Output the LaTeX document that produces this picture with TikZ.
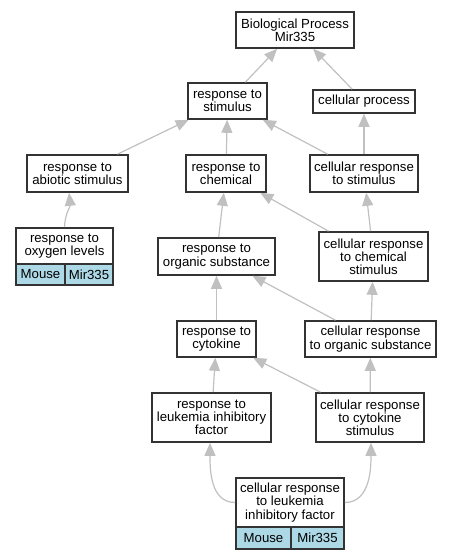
\documentclass[tikz,border=0pt]{standalone}
\usepackage{fontspec}
\setmainfont{Liberation Sans}
\usetikzlibrary{arrows.meta,calc}
\definecolor{edgegray}{HTML}{C0C0C0}
\definecolor{boxline}{HTML}{333333}
\definecolor{cellblue}{HTML}{ADD8E6}
\tikzset{
  term/.style={draw=boxline, line width=1.6pt, fill=white, rectangle, inner sep=0pt,
    align=center, font=\fontsize{13.2}{13.2}\selectfont},
  cell/.style={draw=boxline, line width=1.6pt, fill=cellblue, rectangle, inner sep=0pt,
    align=center, font=\fontsize{13.2}{13.2}\selectfont},
  edge/.style={draw=edgegray, line width=1.2pt, -{Triangle[length=13pt,width=11pt,fill=edgegray]}},
}
\begin{document}
\begin{tikzpicture}[x=1pt,y=-1pt]
\useasboundingbox (0,0) rectangle (452,560);
\node[term, minimum width=118pt, minimum height=36pt] (bp) at (295,30) {Biological Process\\Mir335};
\node[term, minimum width=79pt, minimum height=36pt] (rs) at (227.5,101) {response to\\stimulus};
\node[term, minimum width=102pt, minimum height=23pt] (cp) at (364,101.5) {cellular process};
\node[term, minimum width=101pt, minimum height=37pt] (ras) at (77.5,173.5) {response to\\abiotic stimulus};
\node[term, minimum width=80pt, minimum height=37pt] (rc) at (226,173.5) {response to\\chemical};
\node[term, minimum width=108pt, minimum height=37pt] (crs) at (364,173.5) {cellular response\\to stimulus};
% response to oxygen levels
\node[term, minimum width=97pt, minimum height=36pt] (rol) at (64.5,246) {response to\\oxygen levels};
\node[cell, minimum width=49pt, minimum height=21pt] (rolm) at (40.5,274.5) {Mouse};
\node[cell, minimum width=48pt, minimum height=21pt] (rolg) at (89,274.5) {Mir335};
\node[term, minimum width=117pt, minimum height=37pt] (ros) at (216.5,256.5) {response to\\organic substance};
\node[term, minimum width=109pt, minimum height=49pt] (crcs) at (373.5,256.5) {cellular response\\to chemical\\stimulus};
\node[term, minimum width=79pt, minimum height=36pt] (rcyt) at (216.5,339) {response to\\cytokine};
\node[term, minimum width=131pt, minimum height=36pt] (cros) at (370.5,339) {cellular response\\to organic substance};
\node[term, minimum width=119pt, minimum height=49pt] (rlif) at (211.5,417.5) {response to\\leukemia inhibitory\\factor};
\node[term, minimum width=108pt, minimum height=49pt] (crcyt) at (370,417.5) {cellular response\\to cytokine\\stimulus};
% cellular response to LIF
\node[term, minimum width=108pt, minimum height=49pt] (crlif) at (290,502.5) {cellular response\\to leukemia\\inhibitory factor};
\node[cell, minimum width=55pt, minimum height=22pt] (crlifm) at (263.5,538) {Mouse};
\node[cell, minimum width=53pt, minimum height=22pt] (crlifg) at (317.5,538) {Mir335};
% edges
\draw[edge] (rs) -- (bp);
\draw[edge] (cp) -- (bp);
\draw[edge] (ras) -- (rs);
\draw[edge] (rc) -- (rs);
\draw[edge] (crs) -- (rs);
\draw[edge] (crs) -- (cp);
\draw[edge] (rol.north) to[out=88,in=-84] ($(ras.south)+(-8.5,0)$);
\draw[edge] (ros) -- (rc);
\draw[edge] (crcs) -- (rc);
\draw[edge] (crcs) -- (crs);
\draw[edge] (rcyt) -- (ros);
\draw[edge] (cros) -- (ros);
\draw[edge] (cros) -- (crcs);
\draw[edge] (rlif) -- (rcyt);
\draw[edge] (crcyt) -- (rcyt);
\draw[edge] (crcyt) -- (cros);
\draw[edge] (crlif.west) to[out=180,in=-90] ($(rlif.south)+(-1.5,0)$);
\draw[edge] (crlif.east) to[out=0,in=-90] ($(crcyt.south)+(1,0)$);
\end{tikzpicture}
\end{document}
